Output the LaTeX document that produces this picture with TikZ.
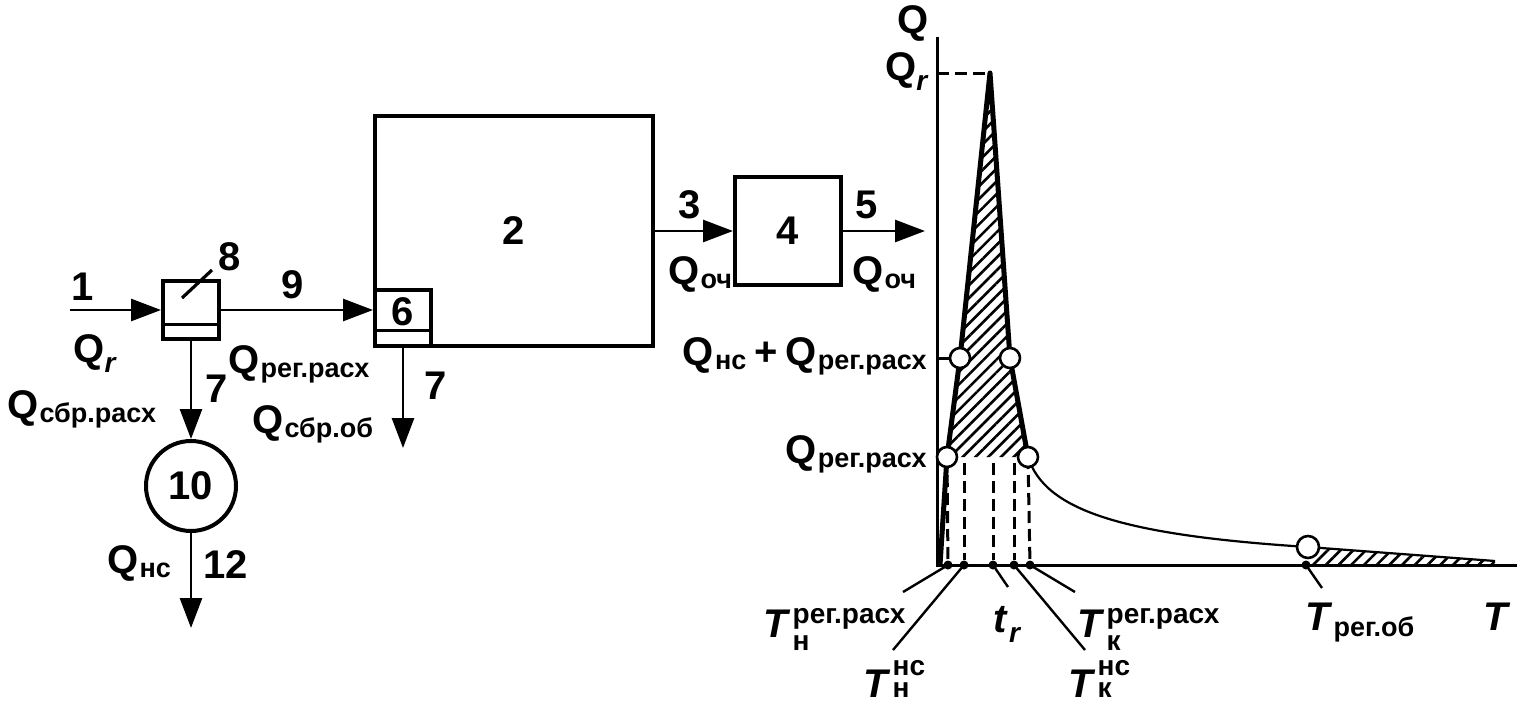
\documentclass[tikz,border=0pt]{standalone}
\usepackage{fontspec}
\setmainfont{Liberation Sans}
\usepackage{tikz}
\usetikzlibrary{arrows.meta,positioning,calc,patterns.meta}
\newcommand{\Qsub}[1]{Q\kern0.5pt\raisebox{-0.12em}{\fontsize{13.5}{14}\selectfont #1}}
\newcommand{\Tsub}[1]{\textit{T}\kern0.5pt\raisebox{-0.15em}{\fontsize{13.5}{14}\selectfont #1}}
\newcommand{\Tpair}[3][-6.5pt]{\textit{T}\kern1pt\raisebox{#1}{\shortstack[l]{\fontsize{14}{14}\selectfont #2\\\fontsize{14}{14}\selectfont #3}}}
\newcommand{\rsub}{\raisebox{-0.25em}{\fontsize{14}{14}\selectfont\textit{r}}}
\tikzset{
  unit/.style={rectangle,draw,line width=2pt,inner sep=0pt},
  ring/.style={circle,draw,line width=2pt,inner sep=0pt,minimum size=45pt},
  strip/.style={line width=1.6pt},
  flow/.style={-{Triangle[length=15pt,width=11pt]},line width=1.4pt},
  tag/.style={inner sep=0pt},
  axis/.style={line width=1.5pt},
  limb/.style={line width=2.5pt,line join=round},
  tail/.style={line width=1.1pt},
  drop/.style={line width=1.5pt,dash pattern=on 6pt off 3pt},
  lead/.style={line width=1.2pt},
  knot/.style={circle,draw,fill=white,line width=1.3pt,inner sep=0pt,minimum size=10pt},
  tickdot/.style={circle,fill,inner sep=0pt,minimum size=4.5pt},
  hatch/.style={pattern={Lines[angle=45,distance=4.5pt,line width=1.3pt]}}
}
\begin{document}
\begin{tikzpicture}[x=0.5pt,y=-0.5pt,font=\fontsize{20}{24}\selectfont\bfseries,node distance=39pt]
  \useasboundingbox (0,0) rectangle (1522,707);

  \node[unit,minimum width=139pt,minimum height=115pt] (plant) at (514,231) {2};
  \node[unit,minimum width=53pt,minimum height=54pt,right=of plant] (post) {4};
  \node[unit,minimum width=28pt,minimum height=29pt] (split) at (191,310) {};
  \node[unit,minimum size=28pt] (reg) at (403,318) {};
  \node[tag] (n6) at (403,312) {6};
  \node[ring,below=49pt of split] (store) {10};
  \draw[strip] ($(split.south west)!0.26!(split.north west)$) -- ($(split.south east)!0.26!(split.north east)$);
  \draw[strip] ($(reg.south west)!0.29!(reg.north west)$) -- ($(reg.south east)!0.29!(reg.north east)$);
  \draw[strip] ($(split.center)+(-9,-12)$) -- ($(split.center)+(21,-40)$);

  \coordinate (src) at (70,310);
  \coordinate (sink) at (191,628);
  \coordinate (drain) at (403,448);
  \coordinate (outlet) at (925,231);
  \draw[flow] (src) -- (split);
  \draw[flow] (split) -- (split -| reg.west);
  \draw[flow] (split) -- (store);
  \draw[flow] (store) -- (sink);
  \draw[flow] (reg) -- (drain);
  \draw[flow] (plant) -- (post);
  \draw[flow] (post) -- (outlet);

  \node[tag] (n1) at (83,287) {1};
  \node[tag,anchor=base west] (lqin) at (73,362) {Q\rsub};
  \node[tag] (n8) at (230,257) {8};
  \node[tag] (n9) at (293,285) {9};
  \node[tag,anchor=base west] (lqreg) at (228,373) {\Qsub{рег.расх}};
  \node[tag,anchor=base west] (lqsr) at (7,418) {\Qsub{сбр.расх}};
  \node[tag] (n7a) at (217,389) {7};
  \node[tag,anchor=base west] (lqso) at (252,433) {\Qsub{сбр.об}};
  \node[tag] (n7b) at (436,386) {7};
  \node[tag,anchor=base west] (lqns) at (107,573) {\Qsub{нс}};
  \node[tag] (n12) at (226,565) {12};
  \node[tag] (n3) at (690,205) {3};
  \node[tag] (n5) at (867,205) {5};
  \node[tag,anchor=base west] (lqo1) at (668,284) {\Qsub{оч}};
  \node[tag,anchor=base west] (lqo2) at (852,284) {\Qsub{оч}};

  \coordinate (O) at (937,565);
  \coordinate (qtop) at (937,37);
  \coordinate (tend) at (1517,565);
  \coordinate (p0) at (940,565);
  \coordinate (k1) at (947,457);
  \coordinate (k2) at (960,358);
  \coordinate (peak) at (990,73);
  \coordinate (k3) at (1010,358);
  \coordinate (k4) at (1028,457);
  \coordinate (k5) at (1308,547);
  \coordinate (pend) at (1495,561);
  \coordinate (hb) at (0,463);

  \fill[hatch] (k1) -- (k2) -- (peak) -- (k3) -- (k4) -- cycle;
  \fill[hatch] (k5) -- (pend) -- (pend |- O) -- (k5 |- O) -- cycle;
  \draw[axis] (qtop) -- (O) -- (tend);
  \draw[drop] (O |- peak) -- (peak);
  \draw[axis] (O |- k2) -- (k2);
  \draw[limb] (p0) -- (k1) -- (k2) -- (peak) -- (k3) -- (k4);
  \draw[tail] (k4) .. controls (1045,510) and (1120,535) .. (k5) -- (pend);

  \foreach \x/\n in {948/1,964/2,993/3,1014/4,1030/5,1306/6}
    \node[tickdot] (t\n) at (\x,565) {};
  \draw[drop] (k1) -- (t1);
  \foreach \n in {2,3,4}
    \draw[drop] (t\n |- hb) -- (t\n);
  \draw[drop] (k4) -- (t5);

  \node[knot] (c1) at (k1) {};
  \node[knot] (c2) at (k2) {};
  \node[knot] (c3) at (k3) {};
  \node[knot] (c4) at (k4) {};
  \node[knot,minimum size=11pt] (c5) at (k5) {};

  \coordinate (e1) at (903,592);
  \coordinate (e2) at (893,650);
  \coordinate (e3) at (1008,587);
  \coordinate (e4) at (1085,650);
  \coordinate (e5) at (1075,592);
  \coordinate (e6) at (1322,588);
  \foreach \n in {1,...,6}
    \draw[lead] (t\n.center) -- (e\n);

  \node[tag] (lQ) at (913,23) {Q};
  \node[tag,anchor=base east] (lQr) at (929,80) {Q\rsub};
  \node[tag,anchor=base east] (lQ2) at (927,365) {\Qsub{нс}\kern4pt+\kern4pt\Qsub{рег.расх}};
  \node[tag,anchor=base east] (lQ1) at (927,463) {\Qsub{рег.расх}};
  \node[tag,anchor=base west] (lt1) at (763,637) {\Tpair{рег.расх}{н}};
  \node[tag,anchor=base west] (lt2) at (863,697) {\Tpair[0pt]{нс}{н}};
  \node[tag,anchor=base west] (lt3) at (993,632) {\textit{t}\kern0.5pt\rsub};
  \node[tag,anchor=base west] (lt4) at (1068,697) {\Tpair[0pt]{нс}{к}};
  \node[tag,anchor=base west] (lt5) at (1077,637) {\Tpair{рег.расх}{к}};
  \node[tag,anchor=base west] (lt6) at (1305,630) {\Tsub{рег.об}};
  \node[tag,anchor=base west] (lT) at (1483,630) {\textit{T}};
\end{tikzpicture}
\end{document}
